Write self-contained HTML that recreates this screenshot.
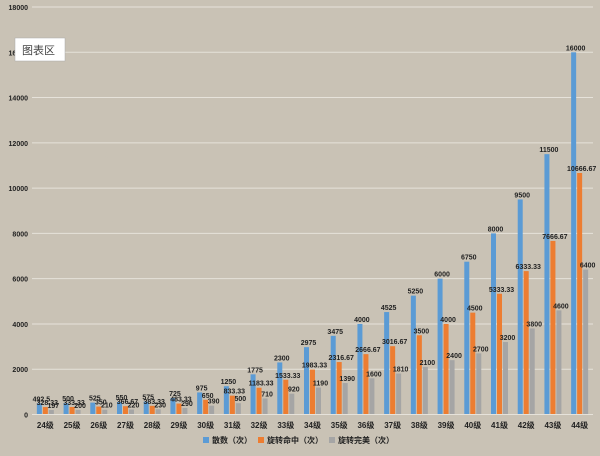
<!DOCTYPE html>
<html><head><meta charset="utf-8"><style>
body{margin:0;background:#c9c2b5;}
svg{display:block;font-family:"Liberation Sans","Noto Sans CJK SC",sans-serif;}
</style></head><body>
<svg id="chart" width="600" height="456" viewBox="0 0 600 456">
<defs><filter id="tex"><feTurbulence type="fractalNoise" baseFrequency="0.8" numOctaves="2" result="n"/><feColorMatrix type="matrix" values="0 0 0 0 0.55 0 0 0 0 0.52 0 0 0 0 0.47 0 0 0 0.12 0"/></filter></defs>
<rect width="600" height="456" fill="#c9c2b5"/>
<rect width="600" height="456" filter="url(#tex)"/>
<g id="grid"></g><g id="bars"></g><g id="labels"></g><g id="axis"></g>
<g font-size="8" font-weight="bold" fill="#222">
<rect x="203" y="437" width="6" height="6" fill="#5b9bd5"/><text x="212" y="443">散数（次）</text>
<rect x="258" y="437" width="6" height="6" fill="#ed7d31"/><text x="267" y="443">旋转命中（次）</text>
<rect x="329" y="437" width="6" height="6" fill="#a5a5a5"/><text x="338" y="443">旋转完美（次）</text>
</g>
<g>
<rect x="15" y="38" width="50" height="23" fill="#fff" stroke="#aaa" stroke-width="0.5"/>
<text x="22" y="54" font-size="11" fill="#444">图表区</text>
</g>
</svg>
<script>
const categories=["24级","25级","26级","27级","28级","29级","30级","31级","32级","33级","34级","35级","36级","37级","38级","39级","40级","41级","42级","43级","44级"];
const seriesHits=[492.5,500,525,550,575,725,975,1250,1775,2300,2975,3475,4000,4525,5250,6000,6750,8000,9500,11500,16000];
const seriesSpin=[328.33,333.33,350,366.67,383.33,483.33,650,833.33,1183.33,1533.33,1983.33,2316.67,2666.67,3016.67,3500,4000,4500,5333.33,6333.33,7666.67,10666.67];
const seriesPerfect=[197,200,210,220,230,290,390,500,710,920,1190,1390,1600,1810,2100,2400,2700,3200,3800,4600,6400];
const yTicks=[0,2000,4000,6000,8000,10000,12000,14000,16000,18000];
const NS="http://www.w3.org/2000/svg";
const x0=32,x1=593,yZero=414.5,yTop=7,yMax=18000;
const band=(x1-x0)/categories.length;
function yS(v){return yZero-(v/yMax)*(yZero-yTop);}
function xC(i){return x0+band*(i+0.5);}
function mk(tag,attrs,parent,txt){const e=document.createElementNS(NS,tag);for(const k in attrs)e.setAttribute(k,attrs[k]);if(txt!==undefined)e.textContent=txt;document.getElementById(parent).appendChild(e);return e;}
yTicks.forEach(t=>{
  if(t>0){const g=mk('line',{x1:x0,x2:x1,y1:yS(t),y2:yS(t),stroke:'#e6e2da','stroke-width':1},'grid');
  
  }
  const l=mk('text',{x:28,y:yS(t)+3,'text-anchor':'end','font-size':7,'font-weight':'bold',fill:'#222'},'axis',String(t));
  
  
});
const ax=mk('line',{x1:x0,x2:x1,y1:yZero,y2:yZero,stroke:'#e6e2da','stroke-width':1},'axis');


const series=[[seriesHits,'#5b9bd5'],[seriesSpin,'#ed7d31'],[seriesPerfect,'#a5a5a5']];
const bw=5,gap=1;
categories.forEach((c,i)=>{
  const cx=xC(i);
  series.forEach(([arr,col],s)=>{
    const bx=cx-8.5+s*(bw+gap);
    const v=arr[i],y=yS(v);
    const r=mk('rect',{x:bx,y:y,width:bw,height:yZero-y,fill:col},'bars');
    
    
    const t=mk('text',{x:bx+bw/2+2,y:y-2,'text-anchor':'middle','font-size':7,'font-weight':'bold',fill:'#222'},'labels',String(v));
    
    
  });
  const xl=mk('text',{x:cx,y:428,'text-anchor':'middle','font-size':8,'font-weight':'bold',fill:'#222'},'axis',c);
  
  
});
</script>
</body></html>
